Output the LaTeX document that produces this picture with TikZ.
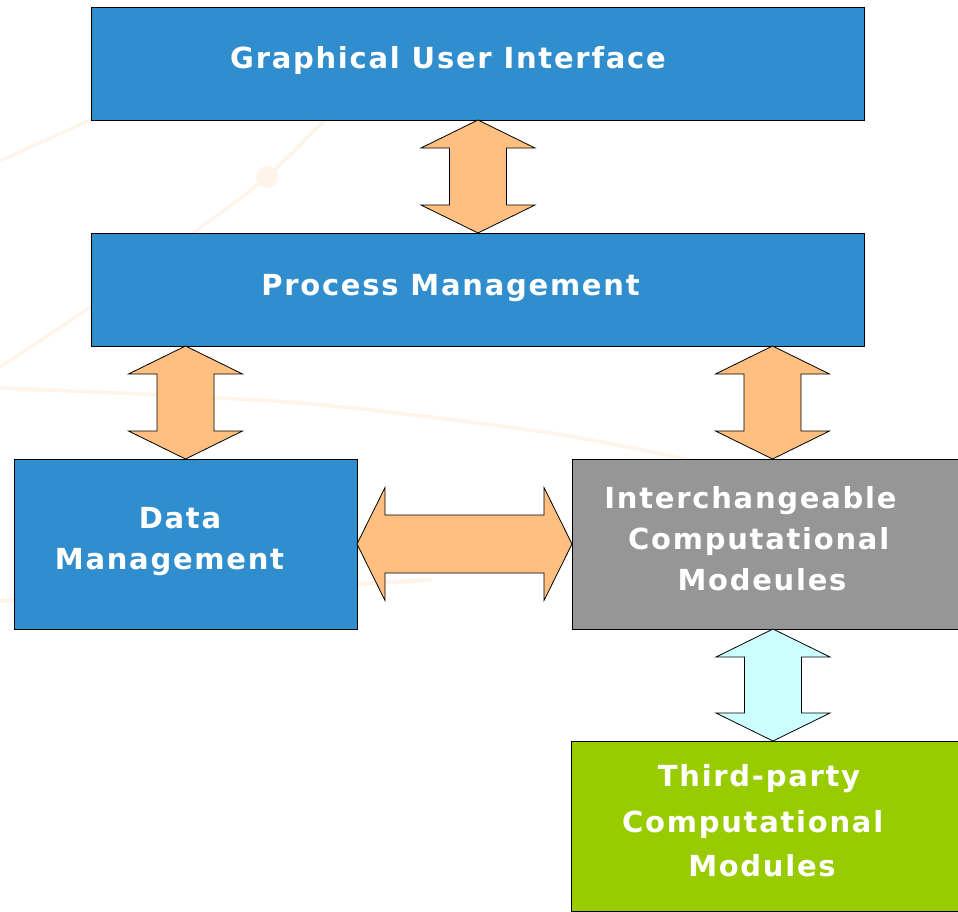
\documentclass[tikz,border=0pt]{standalone}
\usepackage{fontspec}
\newfontfamily\lblfont{DejaVu Sans}[LetterSpace=6]
\usetikzlibrary{calc}
\definecolor{boxblue}{RGB}{49,142,206}
\definecolor{boxgray}{RGB}{150,150,150}
\definecolor{boxgreen}{RGB}{153,204,0}
\definecolor{arroworange}{RGB}{255,191,128}
\definecolor{arrowcyan}{RGB}{204,255,255}
\definecolor{bgline}{RGB}{254,244,233}
\tikzset{
  box/.style={draw=black, line width=0.9pt, rectangle, inner sep=0pt, outer sep=0pt, anchor=north west},
  lbl/.style={text=white, inner sep=0pt, anchor=base, font=\lblfont\bfseries\fontsize{29}{35}\selectfont},
  blockarrow/.style={draw=black, line width=0.8pt, line join=miter},
  bgstroke/.style={draw=bgline, line width=3pt, line cap=round}
}
% vertical double block arrow: #1 top tip, #2 bottom tip, #3 fill
\newcommand{\vdblarrow}[3]{%
  \draw[blockarrow, fill=#3] let \p1=#1, \p2=#2 in
    (\x1,\y1) -- (\x1+57pt,\y1-28pt) -- (\x1+28.5pt,\y1-28pt) -- (\x1+28.5pt,\y2+28pt)
    -- (\x1+57pt,\y2+28pt) -- (\x2,\y2) -- (\x1-57pt,\y2+28pt) -- (\x1-28.5pt,\y2+28pt)
    -- (\x1-28.5pt,\y1-28pt) -- (\x1-57pt,\y1-28pt) -- cycle;}
% horizontal double block arrow: #1 left tip, #2 right tip, #3 fill
\newcommand{\hdblarrow}[3]{%
  \draw[blockarrow, fill=#3] let \p1=#1, \p2=#2 in
    (\x1,\y1) -- (\x1+28pt,\y1+56.5pt) -- (\x1+28pt,\y1+29pt) -- (\x2-28pt,\y1+29pt)
    -- (\x2-28pt,\y1+56.5pt) -- (\x2,\y2) -- (\x2-28pt,\y1-56.5pt) -- (\x2-28pt,\y1-29pt)
    -- (\x1+28pt,\y1-29pt) -- (\x1+28pt,\y1-56.5pt) -- cycle;}
\begin{document}
\begin{tikzpicture}[x=1pt,y=-1pt]
\useasboundingbox (0,0) rectangle (958,911);
\fill[white] (0,0) rectangle (958,911);
% faint background decoration
\draw[bgstroke] (0,161) -- (110,111);
\draw[bgstroke] plot[smooth] coordinates {(0,367) (90,307) (193,233) (267,177) (325,120) (345,100)};
\fill[bgline] (267,177) circle (11);
\draw[bgstroke, line width=3.5pt] plot[smooth] coordinates {(0,388) (300,403) (550,433) (700,462)};
\draw[bgstroke, line width=4pt] plot[smooth] coordinates {(0,601) (200,592) (430,580)};
% boxes
\node[box, fill=boxblue, minimum width=773pt, minimum height=113pt] (gui) at (91,7) {};
\node[box, fill=boxblue, minimum width=773pt, minimum height=113pt] (proc) at (91,233) {};
\node[box, fill=boxblue, minimum width=343pt, minimum height=170pt] (data) at (14,459) {};
\node[box, fill=boxgray, minimum width=400pt, minimum height=170pt] (inter) at (572,459) {};
\node[box, fill=boxgreen, minimum width=400pt, minimum height=170pt] (third) at (571,741) {};
% arrow axes
\coordinate (axgui) at (478,0);
\coordinate (axleft) at (185.5,0);
\coordinate (axright) at (772.5,0);
\coordinate (axthird) at (773,0);
% block arrows
\vdblarrow{(gui.south -| axgui)}{(proc.north -| axgui)}{arroworange}
\vdblarrow{(proc.south -| axleft)}{(data.north -| axleft)}{arroworange}
\vdblarrow{(proc.south -| axright)}{(inter.north -| axright)}{arroworange}
\hdblarrow{(data.east)}{(data.east -| inter.west)}{arroworange}
\vdblarrow{(inter.south -| axthird)}{(third.north -| axthird)}{arrowcyan}
% labels
\node[lbl] (guitext) at (448,68) {Graphical User Interface};
\node[lbl] (proctext) at (450.5,295.3) {Process Management};
\node[lbl] (datatext1) at (180,528.3) {Data};
\node[lbl] (datatext2) at (169.5,569) {Management};
\node[lbl] (intertext1) at (750.5,508) {Interchangeable};
\node[lbl] (intertext2) at (758.7,549) {Computational};
\node[lbl] (intertext3) at (762,590) {Modeules};
\node[lbl] (thirdtext1) at (759,786.7) {Third-party};
\node[lbl] (thirdtext2) at (752.7,832) {Computational};
\node[lbl] (thirdtext3) at (762,876.7) {Modules};
\end{tikzpicture}
\end{document}
